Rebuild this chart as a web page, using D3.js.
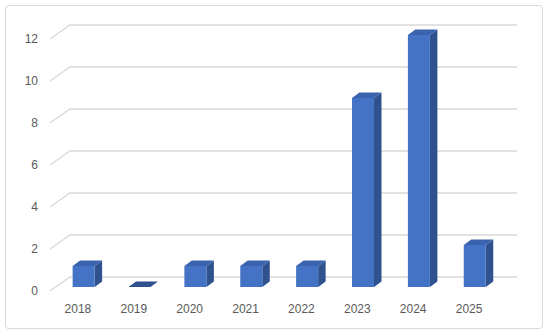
<!DOCTYPE html>
<html>
<head>
<meta charset="utf-8">
<script src="https://cdn.jsdelivr.net/npm/d3@7"></script>
<style>
  body { margin: 0; background: #fff; }
  svg text { font-family: "Liberation Sans", Arial, sans-serif; font-size: 12px; fill: #595959; }
</style>
</head>
<body>
<div id="chart"></div>
<script>
// data
var years = ["2018", "2019", "2020", "2021", "2022", "2023", "2024", "2025"];
var counts = [1, 0, 1, 1, 1, 9, 12, 2];
var yTicks = [0, 2, 4, 6, 8, 10, 12];

var W = 550, H = 336;
var svg = d3.select("#chart").append("svg").attr("width", W).attr("height", H);

// chart frame
svg.append("rect")
  .attr("x", 5.5).attr("y", 5.5)
  .attr("width", 537).attr("height", 323)
  .attr("rx", 3)
  .attr("fill", "#fff")
  .attr("stroke", "#d9d9d9");

// floor: front edge and back-wall offset
var floorY = 291, left = 50, right = 497;
var wallDx = 20, wallDy = -14;

var x = d3.scaleBand().domain(years).range([left, right]);
var y = d3.scaleLinear().domain([0, 12]).range([0, 252]);

// gridlines: diagonal on the side wall, then along the back wall
var grid = svg.append("g").attr("data-part", "grid");
yTicks.forEach(function(t){
  var fy = floorY - y(t);
  grid.append("path")
    .attr("d", "M" + left + " " + fy + "L" + (left + wallDx) + " " + (fy + wallDy) + "L" + (right + wallDx) + " " + (fy + wallDy))
    .attr("fill", "none")
    .attr("stroke", "#d9d9d9")
    .attr("stroke-width", 1.3);
});

// y labels
svg.append("g").selectAll("text")
  .data(yTicks)
  .join("text")
  .attr("x", 38)
  .attr("y", function(d){ return floorY - y(d); })
  .attr("dy", "0.35em")
  .attr("text-anchor", "end")
  .text(function(d){ return d; });

// x labels
svg.append("g").selectAll("text")
  .data(years)
  .join("text")
  .attr("x", function(d){ return x(d) + x.bandwidth() / 2; })
  .attr("y", 313)
  .attr("text-anchor", "middle")
  .text(function(d){ return d; });

// 3d bars
var barW = 22, depthDx = 7.5, depthDy = -5.5;
var shiftX = 5.7, shiftY = -4; // bars sit a little inside the floor
var bars = svg.append("g").attr("data-part", "bars");

years.forEach(function(yr, i){
  var v = counts[i];
  var x0 = x(yr) + x.bandwidth() / 2 - barW / 2 + shiftX;
  var x1 = x0 + barW;
  var yb = floorY + shiftY;
  var yt = yb - y(v);
  var g = bars.append("g");

  if (v > 0) {
    // side face
    g.append("path")
      .attr("d", "M" + x1 + " " + yb + "L" + (x1 + depthDx) + " " + (yb + depthDy) +
        "L" + (x1 + depthDx) + " " + (yt + depthDy) + "L" + x1 + " " + yt + "Z")
      .attr("fill", "#2f528f");
    // front face
    g.append("rect")
      .attr("x", x0).attr("y", yt)
      .attr("width", barW).attr("height", yb - yt)
      .attr("fill", "#4472c4");
  }
  // top face
  g.append("path")
    .attr("d", "M" + x0 + " " + yt + "L" + (x0 + depthDx) + " " + (yt + depthDy) +
      "L" + (x1 + depthDx) + " " + (yt + depthDy) + "L" + x1 + " " + yt + "Z")
    .attr("fill", v > 0 ? "#3a62ae" : "#2f528f");
});
</script>
</body>
</html>
